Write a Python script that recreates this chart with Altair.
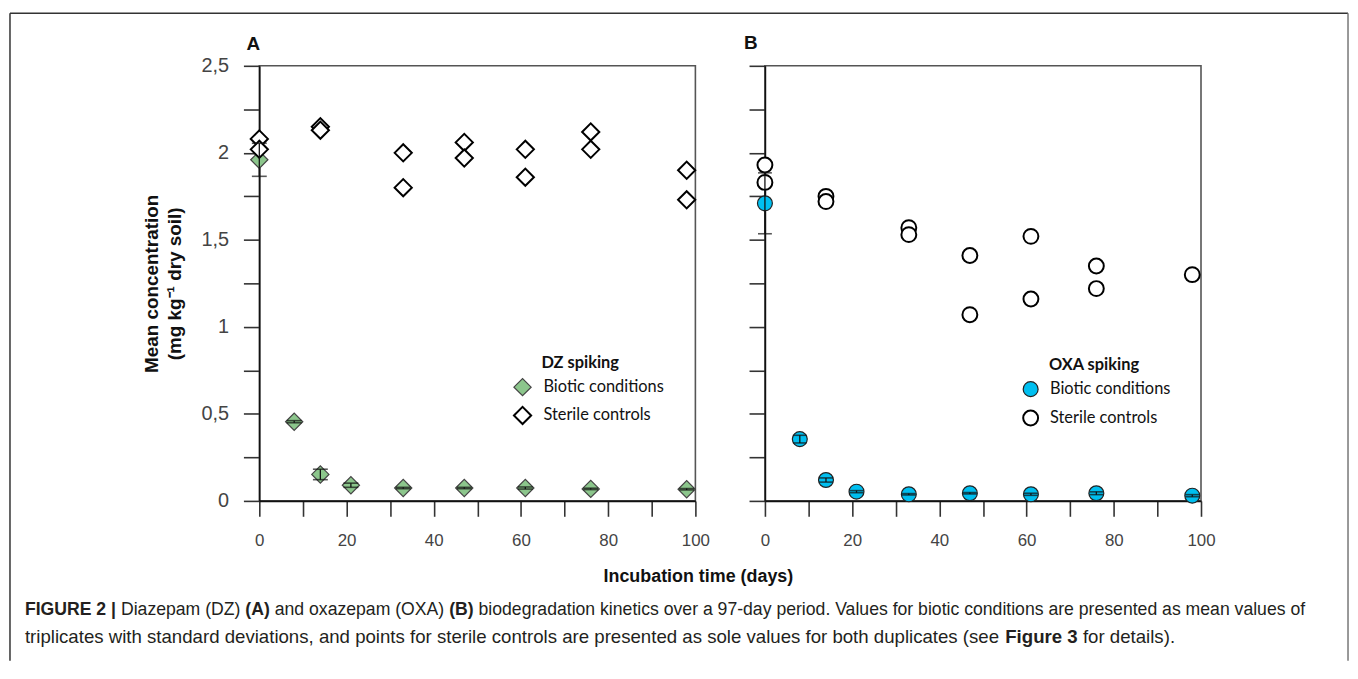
import altair as alt
import pandas as pd

# ---------------- data ----------------
days = [0, 8, 14, 21, 33, 47, 61, 76, 98]

dz_biotic_mean = [1.96, 0.455, 0.152, 0.090, 0.074, 0.074, 0.074, 0.069, 0.067]
dz_biotic_sd = [0.095, 0.006, 0.030, 0.012, 0.004, 0.004, 0.006, 0.004, 0.004]
dz_sterile_days = [0, 0, 14, 14, 33, 33, 47, 47, 61, 61, 76, 76, 98, 98]
dz_sterile_vals = [2.08, 2.02, 2.15, 2.13, 2.00, 1.80, 2.06, 1.97, 2.02, 1.86, 2.12, 2.02, 1.90, 1.73]

oxa_biotic_mean = [1.71, 0.355, 0.120, 0.053, 0.038, 0.044, 0.038, 0.044, 0.030]
oxa_biotic_sd = [0.175, 0.022, 0.012, 0.006, 0.004, 0.004, 0.006, 0.008, 0.006]
oxa_sterile_days = [0, 0, 14, 14, 33, 33, 47, 47, 61, 61, 76, 76, 98]
oxa_sterile_vals = [1.93, 1.83, 1.75, 1.72, 1.57, 1.53, 1.41, 1.07, 1.52, 1.16, 1.35, 1.22, 1.30]

series_names = ["Biotic conditions", "Sterile controls"]
x_ticks = list(range(0, 101, 10))
y_ticks = [i * 0.25 for i in range(11)]

y_title = ["Mean concentration", "(mg kg\u207b\u00b9 dry soil)"]
x_title = "Incubation time (days)"

caption_line1 = [
    ("FIGURE 2 |", True),
    ("Diazepam (DZ)", False),
    ("(A)", True),
    ("and oxazepam (OXA)", False),
    ("(B)", True),
    ("biodegradation kinetics over a 97-day period. Values for biotic conditions are presented as mean values of", False),
]
caption_line2 = [
    ("triplicates with standard deviations, and points for sterile controls are presented as sole values for both duplicates (see", False),
    ("Figure 3", True),
    ("for details).", False),
]

# ---------------- text width estimate (Helvetica/Arial metrics, 1/1000 em) ----------------
REG = dict(zip(" ()|,-.0123456789", [278, 333, 333, 260, 278, 333, 278] + [556] * 10))
REG.update(dict(zip("ABCDEFGHIJKLMNOPQRSTUVWXYZ",
                    [667, 667, 722, 722, 667, 611, 778, 722, 278, 500, 667, 556, 833,
                     722, 778, 667, 778, 722, 667, 611, 722, 667, 944, 667, 667, 611])))
REG.update(dict(zip("abcdefghijklmnopqrstuvwxyz",
                    [556, 556, 500, 556, 556, 278, 556, 556, 222, 222, 500, 222, 833,
                     556, 556, 556, 556, 333, 500, 278, 556, 500, 722, 500, 500, 500])))
BOLD = dict(zip(" ()|,-.0123456789", [278, 333, 333, 280, 278, 333, 278] + [556] * 10))
BOLD.update(dict(zip("ABCDEFGHIJKLMNOPQRSTUVWXYZ",
                     [722, 722, 722, 722, 667, 611, 778, 722, 278, 556, 722, 611, 833,
                      722, 778, 667, 778, 722, 667, 611, 722, 667, 944, 667, 667, 611])))
BOLD.update(dict(zip("abcdefghijklmnopqrstuvwxyz",
                     [556, 611, 556, 611, 556, 333, 611, 611, 278, 278, 556, 278, 889,
                      611, 611, 611, 611, 389, 556, 333, 611, 556, 778, 556, 556, 500])))


def em_width(s, bold):
    table = BOLD if bold else REG
    return sum(table.get(c, 556) for c in s) / 1000.0


def line_em(segs):
    return sum(em_width(t, b) for t, b in segs) + em_width(" ", False) * (len(segs) - 1)


# ---------------- layout helpers ----------------
W, H = 439, 438
ONE = pd.DataFrame({"k": [0]})
AX = "Liberation Sans"


def text_layer(text, x, y, size, weight="normal", font=AX, align="left", color="#111"):
    return alt.Chart(pd.DataFrame({"t": [text]})).mark_text(
        align=align, baseline="middle", font=font, fontSize=size,
        fontWeight=weight, color=color
    ).encode(text="t:N", x=alt.value(x), y=alt.value(y))


def rule_layer(x, y, x2=None, y2=None, color="#444", width=1.5):
    enc = dict(x=alt.value(x), y=alt.value(y))
    if x2 is not None:
        enc["x2"] = alt.value(x2)
    if y2 is not None:
        enc["y2"] = alt.value(y2)
    return alt.Chart(ONE).mark_rule(color=color, strokeWidth=width).encode(**enc)


common_axis = dict(grid=False, domainColor="#111", domainWidth=1.6,
                   tickColor="#333", tickWidth=1.6, labelFlush=False,
                   labelOverlap=False, labelFont=AX, labelColor="#444")

x_axis = alt.Axis(values=x_ticks,
                  labelExpr="datum.value % 20 == 0 ? datum.label : ''",
                  tickSize=15.5, labelPadding=16, labelFontSize=17,
                  title=None, **common_axis)

y_axis_a = alt.Axis(values=y_ticks, format=".2~f",
                    labelExpr="datum.value % 0.5 == 0 ? replace(datum.label, '.', ',') : ''",
                    tickSize=16, labelPadding=15, labelFontSize=20,
                    title=y_title, titleFont=AX, titleFontSize=19,
                    titleFontWeight="bold", titleColor="#111",
                    titlePadding=17, titleLineHeight=23, **common_axis)

y_axis_b = alt.Axis(values=y_ticks, labels=False, tickSize=16, title=None,
                    **common_axis)


def panel(bio_mean, bio_sd, st_days, st_vals, shape, size, bio_fill,
          bio_stroke, y_axis, legend_x, legend_y, row_pad, cap, extra):
    pts = pd.DataFrame({
        "day": days + st_days,
        "value": bio_mean + st_vals,
        "series": [series_names[0]] * len(days) + [series_names[1]] * len(st_days),
    })
    err = pd.DataFrame({
        "day": days,
        "lo": [m - s for m, s in zip(bio_mean, bio_sd)],
        "hi": [m + s for m, s in zip(bio_mean, bio_sd)],
    })
    xs = alt.Scale(domain=[0, 100], nice=False, zero=False)
    ys = alt.Scale(domain=[0, 2.5], nice=False)
    legend = alt.Legend(title=None, orient="none", direction="vertical",
                        legendX=legend_x, legendY=legend_y,
                        symbolType=shape, symbolSize=size,
                        labelFont="Lato", labelFontSize=16.5,
                        labelColor="#111", labelOffset=11, rowPadding=row_pad)
    points = alt.Chart(pts).mark_point(shape=shape, filled=True, size=size,
                                       opacity=1).encode(
        x=alt.X("day:Q", scale=xs, axis=x_axis),
        y=alt.Y("value:Q", scale=ys, axis=y_axis),
        fill=alt.Fill("series:N", scale=alt.Scale(domain=series_names, range=[bio_fill, "#ffffff"]), legend=legend),
        stroke=alt.Stroke("series:N", scale=alt.Scale(domain=series_names, range=[bio_stroke, "#000000"]), legend=legend),
        strokeWidth=alt.StrokeWidth("series:N", scale=alt.Scale(domain=series_names, range=[1.2, 2.0]), legend=legend),
    )
    bars = alt.Chart(err).mark_rule(color="#111", strokeWidth=1.3).encode(
        x=alt.X("day:Q", scale=xs, axis=x_axis),
        y=alt.Y("lo:Q", scale=ys, axis=y_axis),
        y2="hi:Q",
    )
    caps_lo = alt.Chart(err).mark_tick(color="#111", orient="horizontal",
                                       size=cap, thickness=1.6).encode(
        x=alt.X("day:Q", scale=xs, axis=x_axis),
        y=alt.Y("lo:Q", scale=ys, axis=y_axis),
    )
    caps_hi = alt.Chart(err).mark_tick(color="#111", orient="horizontal",
                                       size=cap, thickness=1.6).encode(
        x=alt.X("day:Q", scale=xs, axis=x_axis),
        y=alt.Y("hi:Q", scale=ys, axis=y_axis),
    )
    return alt.layer(points, bars, caps_lo, caps_hi, *extra).properties(
        width=W, height=H)


# panel A origin on page: (258, 63); panel B origin: (767, 63)
OX, OY = 258, 63
BX = 767
cap_font = AX
cap_left = 22
line1_right, line2_right = 1312, 1180
y1, y2 = 611, 638
border_bottom = 662

fs1 = round((line1_right - cap_left) / line_em(caption_line1), 2)
fs2 = round((line2_right - cap_left) / line_em(caption_line2), 2)

extra_a = [
    rule_layer(7 - OX, 10 - OY, y2=border_bottom - OY, color="#333"),
    rule_layer(7 - OX, 10 - OY, x2=1354 - OX, color="#333"),
    rule_layer(1354 - OX, 10 - OY, y2=border_bottom - OY, color="#777"),
    text_layer("A", 245 - OX, 41 - OY, 19, "bold"),
    text_layer("DZ spiking", 542 - OX, 362 - OY, 16.5, "bold", font="Lato"),
    text_layer(x_title, 700 - OX, 578 - OY, 18, "bold", align="center"),
]
for segs, yy, fs in ((caption_line1, y1, fs1), (caption_line2, y2, fs2)):
    cx = cap_left
    for t, b in segs:
        extra_a.append(text_layer(t, cx - OX, yy - OY, fs,
                                  "bold" if b else "normal", font=cap_font,
                                  color="#231f20"))
        cx += (em_width(t, b) + em_width(" ", False)) * fs

extra_b = [
    text_layer("B", 746 - BX, 40 - OY, 19, "bold"),
    text_layer("OXA spiking", 1053 - BX, 364 - OY, 16.5, "bold", font="Lato"),
]

panel_a = panel(dz_biotic_mean, dz_biotic_sd, dz_sterile_days, dz_sterile_vals,
                "diamond", 300, "#8cc68c", "#444444", y_axis_a,
                522 - OX - 9, 386 - OY - 9, 4, 15, extra_a)
panel_b = panel(oxa_biotic_mean, oxa_biotic_sd, oxa_sterile_days, oxa_sterile_vals,
                "circle", 225, "#00bff0", "#222222", y_axis_b,
                1034 - BX - 8, 388 - OY - 8, 7, 14, extra_b)

chart = alt.hconcat(panel_a, panel_b, spacing=70, bounds="flush").resolve_scale(
    x="independent", y="independent", fill="independent",
    stroke="independent", strokeWidth="independent"
).properties(
    padding={"left": 0, "top": 1, "right": 0, "bottom": 0},
    background="white",
).configure_view(stroke="#555", strokeWidth=1.6)

chart.save("out.html", embed_options={"renderer": "svg", "actions": False})
